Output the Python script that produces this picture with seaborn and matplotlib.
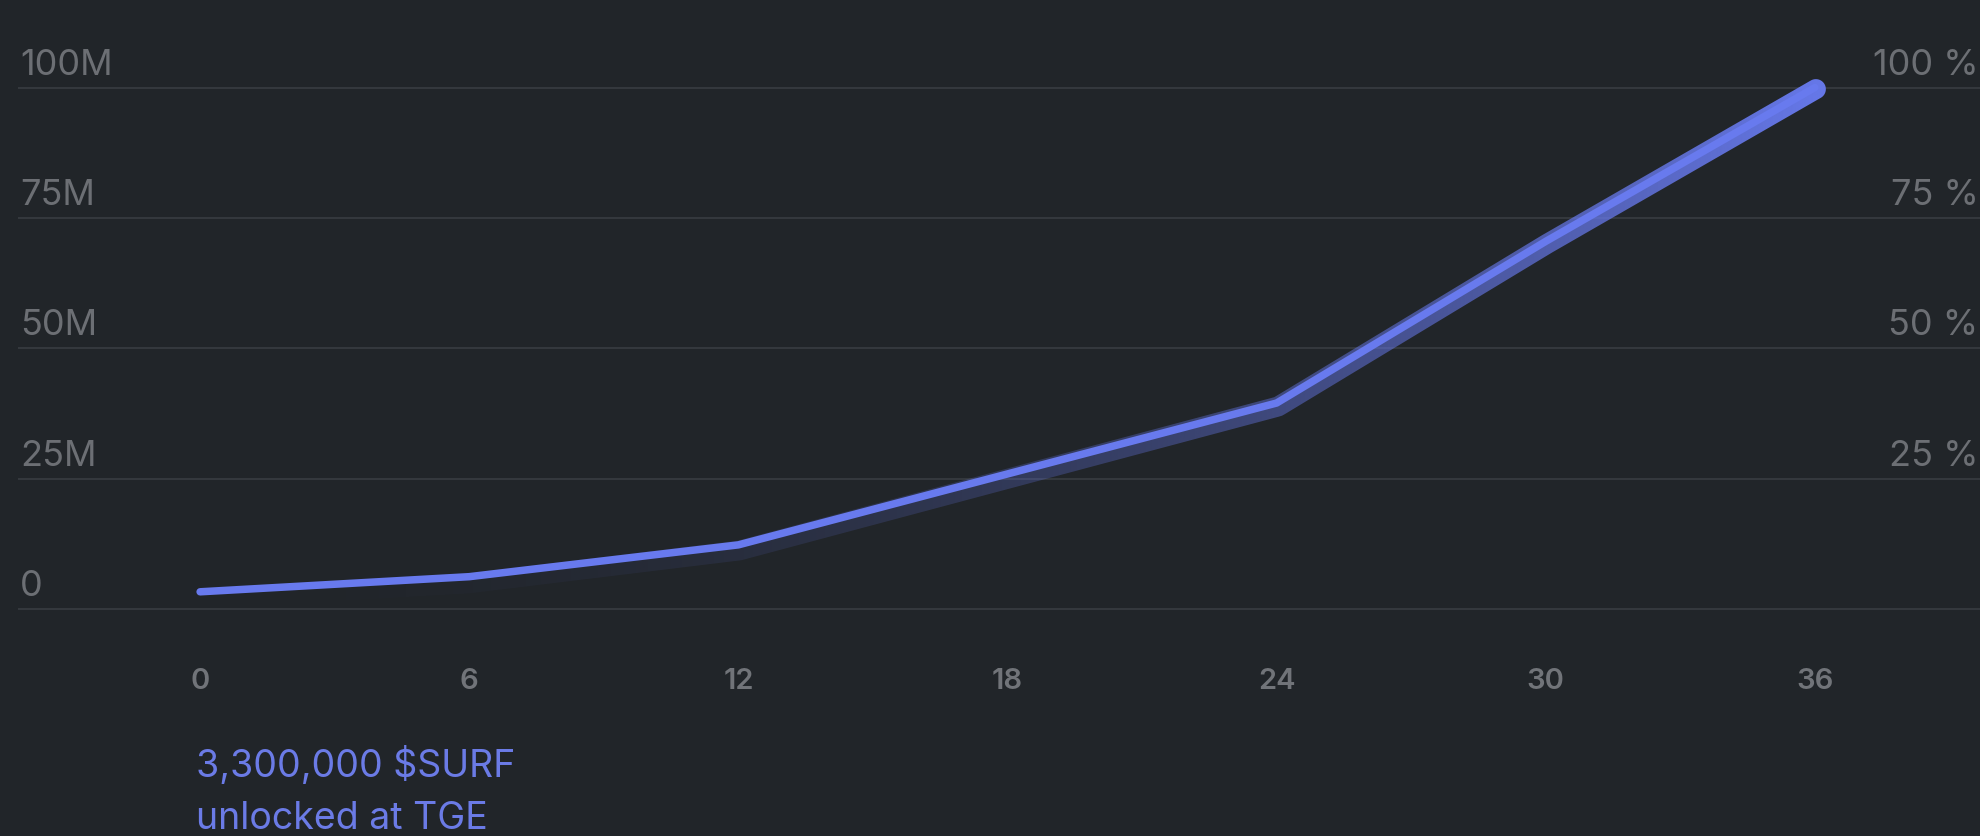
import numpy as np
import pandas as pd
import matplotlib
matplotlib.use("Agg")
import matplotlib.pyplot as plt
from matplotlib.path import Path
import seaborn as sns

# ---------------- data ----------------
months = [0, 6, 12, 18, 24, 30, 36]
unlocked_m = [3.3, 6.2, 12.3, 25.9, 39.5, 70.5, 100.0]   # cumulative unlocked, millions
x_ticks = [0, 6, 12, 18, 24, 30, 36]
x_tick_labels = ["0", "6", "12", "18", "24", "30", "36"]
y_ticks = [0, 25, 50, 75, 100]
y_left_labels = ["0", "25M", "50M", "75M", "100M"]
y_right_labels = ["", "25 %", "50 %", "75 %", "100 %"]
note_lines = ["3,300,000 $SURF", "unlocked at TGE"]

# ---------------- style ----------------
BG = "#212529"
GRID = "#34383d"
LABEL = "#6c6f74"
TICK = "#717479"
BLUE = "#687AEE"
NOTE = "#6b7be6"

sns.set_theme(style="dark", rc={"axes.facecolor": BG, "figure.facecolor": BG})
plt.rcParams["font.family"] = ["Inter", "DejaVu Sans"]

W, H = 1980, 837
fig = plt.figure(figsize=(W / 100, H / 100), dpi=100)
ax = fig.add_axes([18 / W, (H - 640) / H, 1962 / W, 600 / H])
ax.set_facecolor(BG)
ax.set_xlim(-4.06, 39.68)
ax.set_ylim(-5.75, 109.3)

df = pd.DataFrame({"month": months, "unlocked": unlocked_m})

# ---- shadow band: thick offset stroke with left-to-right opacity gradient ----
xs = np.linspace(months[0], months[-1], 1441)
ys = np.interp(xs, months, unlocked_m)
pts = ax.transData.transform(np.column_stack([xs, ys]))
t = np.gradient(pts, axis=0)
t /= np.linalg.norm(t, axis=1)[:, None]
n = np.column_stack([t[:, 1], -t[:, 0]])          # points "below" the line
frac = (xs - xs[0]) / (xs[-1] - xs[0])
d_off = (7.5 * (1 - 0.75 * frac))[:, None]         # pixels, tapering toward the end
half_w = 10.0
center = pts + d_off * n
upper = center - half_w * n
lower = center + half_w * n
phi = np.linspace(0, np.pi, 40)[:, None]
end_cap = center[-1] + half_w * (np.cos(phi) * (-n[-1]) + np.sin(phi) * t[-1])
start_cap = center[0] + half_w * (np.cos(phi) * n[0] + np.sin(phi) * (-t[0]))
poly_px = np.vstack([upper, end_cap, lower[::-1], start_cap])
poly_data = ax.transData.inverted().transform(poly_px)
band_path = Path(np.vstack([poly_data, poly_data[:1]]), closed=True)

rgb = matplotlib.colors.to_rgb(BLUE)
x0, x1 = months[0] - 1, months[-1] + 1
ncol = 500
gx = np.linspace(x0, x1, ncol)
alpha = 0.97 * np.clip((gx - months[0]) / (months[-1] - months[0]), 0, 1) ** 2
img = np.zeros((2, ncol, 4))
img[..., :3] = rgb
img[..., 3] = alpha
im = ax.imshow(img, extent=(x0, x1, -10, 115), aspect="auto",
               interpolation="bilinear", zorder=2, origin="lower")
im.set_clip_path(band_path, transform=ax.transData)

# ---- main line ----
sns.lineplot(data=df, x="month", y="unlocked", ax=ax, color=BLUE, linewidth=5.4,
             solid_capstyle="round", solid_joinstyle="round", zorder=3)

ax.set_xlim(-4.06, 39.68)
ax.set_ylim(-5.75, 109.3)

# grid lines
for v in y_ticks:
    ax.axhline(v, color=GRID, linewidth=1.5, zorder=1)
ax.set_yticks([])
ax.grid(False)

# y labels (left and right)
for v, lab, rlab in zip(y_ticks, y_left_labels, y_right_labels):
    ax.annotate(lab, xy=(0.001, v), xycoords=("axes fraction", "data"),
                xytext=(0, 10), textcoords="offset points", ha="left", va="baseline",
                fontsize=26, color=LABEL)
    if rlab:
        ax.annotate(rlab, xy=(1.0, v), xycoords=("axes fraction", "data"),
                    xytext=(-1, 10), textcoords="offset points", ha="right", va="baseline",
                    fontsize=26, color=LABEL)

# x ticks
ax.set_xticks(x_ticks)
ax.set_xticklabels(x_tick_labels, fontsize=21, color=TICK, fontweight="semibold")
ax.tick_params(axis="x", length=0, pad=20)
ax.set_xlabel("")
ax.set_ylabel("")
for s in ax.spines.values():
    s.set_visible(False)

# TGE note
ax.annotate("\n".join(note_lines), xy=(months[0], 0), xycoords="data",
            xytext=(-3, -98), textcoords="offset points", ha="left", va="top",
            fontsize=27, color=NOTE, linespacing=1.58, annotation_clip=False)

fig.savefig("out.png", dpi=100, facecolor=BG)
